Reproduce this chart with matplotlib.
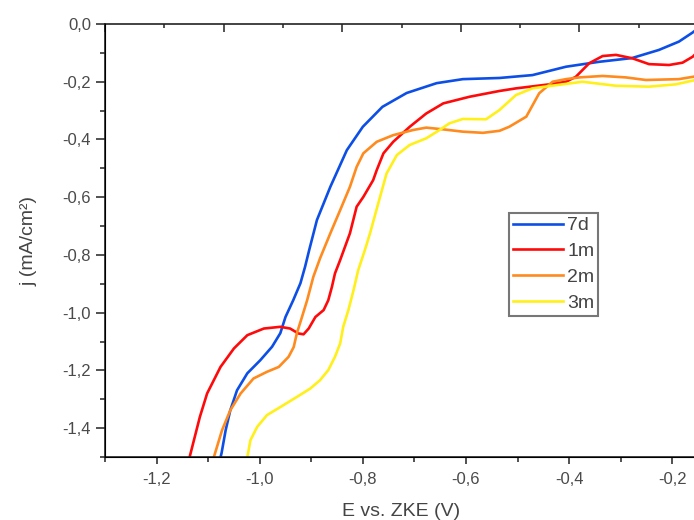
import numpy as np
import matplotlib
matplotlib.use("Agg")
import matplotlib.pyplot as plt
from matplotlib.ticker import MultipleLocator, FuncFormatter

plt.rcParams['font.family'] = ['Liberation Sans', 'DejaVu Sans']

# data (E in V, j in mA/cm2)
e_7d = [-1.076, -1.074, -1.066, -1.057, -1.044, -1.024, -0.999, -0.976, -0.960, -0.950,
        -0.935, -0.921, -0.912, -0.904, -0.889, -0.863, -0.831, -0.800, -0.762, -0.715,
        -0.657, -0.606, -0.535, -0.471, -0.406, -0.342, -0.278, -0.226, -0.187, -0.160, -0.150]
j_7d = [-1.501, -1.487, -1.407, -1.338, -1.269, -1.210, -1.165, -1.118, -1.071, -1.015,
        -0.957, -0.898, -0.841, -0.783, -0.679, -0.564, -0.437, -0.356, -0.287, -0.239,
        -0.205, -0.191, -0.187, -0.177, -0.148, -0.131, -0.118, -0.090, -0.061, -0.029, -0.015]

e_1m = [-1.136, -1.116, -1.102, -1.076, -1.050, -1.024, -0.992, -0.960, -0.941, -0.925,
        -0.915, -0.905, -0.892, -0.876, -0.867, -0.860, -0.854, -0.844, -0.825, -0.812,
        -0.799, -0.780, -0.773, -0.760, -0.741, -0.709, -0.677, -0.644, -0.593, -0.535,
        -0.503, -0.438, -0.406, -0.387, -0.361, -0.335, -0.309, -0.277, -0.245, -0.206,
        -0.180, -0.160, -0.150]
j_1m = [-1.501, -1.361, -1.280, -1.188, -1.124, -1.078, -1.055, -1.049, -1.055, -1.072,
        -1.075, -1.055, -1.015, -0.991, -0.957, -0.911, -0.864, -0.818, -0.725, -0.633,
        -0.599, -0.541, -0.506, -0.448, -0.408, -0.356, -0.310, -0.275, -0.252, -0.232,
        -0.223, -0.209, -0.200, -0.183, -0.136, -0.111, -0.107, -0.119, -0.139, -0.142,
        -0.134, -0.113, -0.095]

e_2m = [-1.089, -1.073, -1.057, -1.037, -1.012, -0.986, -0.963, -0.944, -0.934, -0.928,
        -0.918, -0.908, -0.896, -0.883, -0.863, -0.844, -0.825, -0.812, -0.799, -0.773,
        -0.741, -0.702, -0.677, -0.644, -0.606, -0.567, -0.535, -0.516, -0.483, -0.458,
        -0.432, -0.406, -0.380, -0.335, -0.290, -0.251, -0.187, -0.160, -0.150]
j_2m = [-1.501, -1.407, -1.338, -1.280, -1.228, -1.205, -1.188, -1.153, -1.119, -1.072,
        -1.015, -0.957, -0.876, -0.812, -0.725, -0.645, -0.564, -0.495, -0.448, -0.408,
        -0.385, -0.367, -0.359, -0.365, -0.373, -0.377, -0.370, -0.356, -0.321, -0.240,
        -0.200, -0.191, -0.185, -0.180, -0.185, -0.194, -0.191, -0.183, -0.180]

e_3m = [-1.024, -1.018, -1.005, -0.986, -0.960, -0.928, -0.902, -0.883, -0.867, -0.854,
        -0.844, -0.838, -0.828, -0.818, -0.809, -0.796, -0.786, -0.770, -0.754, -0.734,
        -0.709, -0.677, -0.651, -0.632, -0.606, -0.561, -0.535, -0.503, -0.471, -0.438,
        -0.374, -0.309, -0.245, -0.193, -0.160, -0.150]
j_3m = [-1.501, -1.442, -1.396, -1.355, -1.327, -1.292, -1.263, -1.234, -1.199, -1.153,
        -1.107, -1.049, -0.991, -0.922, -0.853, -0.783, -0.725, -0.621, -0.518, -0.454,
        -0.419, -0.396, -0.367, -0.344, -0.329, -0.330, -0.298, -0.246, -0.223, -0.215,
        -0.200, -0.214, -0.217, -0.209, -0.196, -0.190]

labels = ["7d", "1m", "2m", "3m"]
colors = ["#0d4fe6", "#ff0a0a", "#ff8a1e", "#fff01a"]

fig = plt.figure(figsize=(6.94, 5.20), dpi=100)
ax = fig.add_axes([105/694, 1 - 457/520, (698 - 105)/694, (457 - 24)/520])

for e, j, lab, c in zip([e_7d, e_1m, e_2m, e_3m], [j_7d, j_1m, j_2m, j_3m], labels, colors):
    ax.plot(e, j, color=c, lw=1.9, label=lab, solid_joinstyle='round')

ax.set_xlim(-1.3, -0.15)
ax.set_ylim(-1.5, 0.0)

comma = FuncFormatter(lambda v, p: ("%.1f" % v).replace(".", ","))
ax.xaxis.set_major_locator(MultipleLocator(0.2))
ax.xaxis.set_minor_locator(MultipleLocator(0.1))
ax.yaxis.set_major_locator(MultipleLocator(0.2))
ax.yaxis.set_minor_locator(MultipleLocator(0.1))
ax.xaxis.set_major_formatter(comma)
ax.yaxis.set_major_formatter(comma)

ax.tick_params(axis='x', which='major', direction='out', length=5, width=1.1, pad=6,
               labelsize=12, labelcolor='#4a4a4a', color='#222222')
ax.tick_params(axis='x', which='minor', direction='out', length=3.6, width=1.1, color='#222222')
ax.tick_params(axis='y', which='major', direction='out', length=6.5, width=1.1, pad=3.5,
               labelsize=12, labelcolor='#4a4a4a', color='#222222')
ax.tick_params(axis='y', which='minor', direction='out', length=3.6, width=1.1, color='#222222')

for s in ['left', 'bottom', 'top']:
    ax.spines[s].set_linewidth(1.2)
    ax.spines[s].set_color('#222222')
ax.spines['right'].set_visible(False)

# top axis (unlabelled, separate scale)
top = ax.twiny()
top.set_xlim(0, 5)
top.xaxis.set_major_locator(MultipleLocator(1))
top.xaxis.set_minor_locator(MultipleLocator(0.5))
top.tick_params(axis='x', which='major', direction='in', length=5.8, width=1.1,
                labeltop=False, color='#222222')
top.tick_params(axis='x', which='minor', direction='in', length=3, width=1.1, color='#222222')
top.spines['right'].set_visible(False)
top.spines['top'].set_visible(False)

ax.set_xlabel("E vs. ZKE (V)", fontsize=14, color='#444444', labelpad=11)
ax.set_ylabel("j (mA/cm²)", fontsize=14, color='#444444', labelpad=18)

leg = ax.legend(loc='upper left', bbox_to_anchor=(509/694, 1 - 213/520),
                bbox_transform=fig.transFigure, fontsize=14, frameon=True,
                fancybox=False, handlelength=2.6, handletextpad=0.2,
                borderpad=0.2, labelspacing=0.42, borderaxespad=0)
leg.get_frame().set_edgecolor('#555555')
leg.get_frame().set_linewidth(1.5)
for t in leg.get_texts():
    t.set_color('#444444')

fig.savefig("out.png", dpi=100)
